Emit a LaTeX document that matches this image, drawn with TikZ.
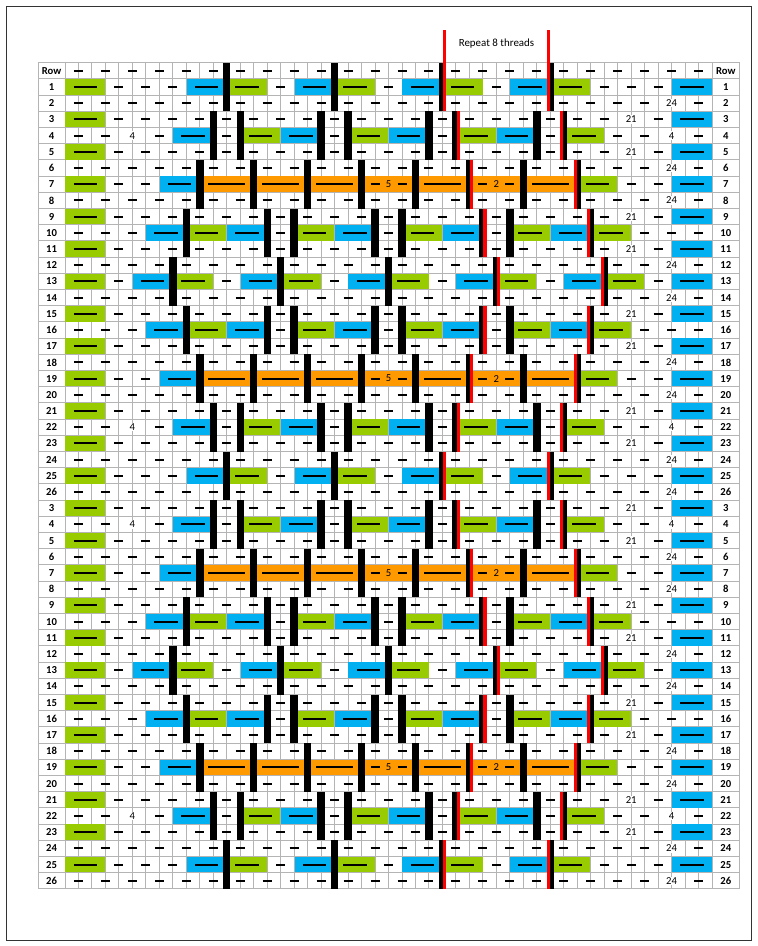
\documentclass[tikz,border=0pt]{standalone}
\usepackage{fontspec}
\setmainfont{Carlito}
\definecolor{cgreen}{HTML}{99CC00}
\definecolor{cblue}{HTML}{00B0F0}
\definecolor{corange}{HTML}{FF9900}
\definecolor{cgrid}{HTML}{B4B4B4}
\tikzset{
  sd/.style={line width=1.5pt},
  ld/.style={line width=1.6pt},
  gridl/.style={draw=cgrid, line width=0.7pt},
  framel/.style={draw=black!80, line width=0.7pt},
  numl/.style={font=\fontsize{8}{9}\selectfont, fill=white, inner sep=0.6pt},
  numo/.style={font=\fontsize{8}{9}\selectfont, fill=corange, inner sep=0.6pt},
  rowl/.style={font=\fontsize{8}{9}\selectfont\bfseries, inner sep=0pt},
  repl/.style={font=\fontsize{8.2}{10}\selectfont, inner sep=0pt},
}
% short dash: row n, gridline k
\newcommand\sdash[2]{\draw[sd] ({65+13.48*(#2)-4.5},{62.7+16.2*(#1)+8.1}) -- ({65+13.48*(#2)+4.5},{62.7+16.2*(#1)+8.1});}
% coloured block: row n, from k1 to k2, colour
\newcommand\blk[4]{\fill[#4] ({65+13.48*(#2)+0.35},{62.7+16.2*(#1)+0.35}) rectangle ({65+13.48*(#3)-0.35},{62.7+16.2*(#1)+16.2-0.35});}
\newcommand\blkL[4]{\blk{#1}{#2}{#3}{#4}\draw[ld] ({65+13.48*(#2)+8.5},{62.7+16.2*(#1)+8.1}) -- ({65+13.48*(#3)-8.5},{62.7+16.2*(#1)+8.1});}
\newcommand\numc[3]{\node[numl] (n#1-#2) at ({65+13.48*(#2)},{62.7+16.2*(#1)+8.1}) {#3};}
\newcommand\numor[3]{\node[numo] (n#1-#2) at ({65+13.48*(#2)},{62.7+16.2*(#1)+8.1}) {#3};}
% outer rows
\newcommand\oddouter[2]{\foreach \k in {1,3,...,43,47}{\sdash{#1}{\k}}%
  \ifnum#2=1 \numc{#1}{45}{24}\else\sdash{#1}{45}\fi}
\newcommand\evenouter[1]{\blkL{#1}{0}{3}{cgreen}%
  \foreach \k in {4,6,...,40,44}{\sdash{#1}{\k}}%
  \numc{#1}{42}{21}\blkL{#1}{45}{48}{cblue}}
% middle rows
\newcommand\midA[1]{\blkL{#1}{0}{3}{cgreen}%
  \foreach \k in {4,6,8,16,24,32,40,42,44}{\sdash{#1}{\k}}%
  \foreach \a in {9,17,25,33}{\blkL{#1}{\a}{\a+3}{cblue}\blkL{#1}{\a+3}{\a+6}{cgreen}}%
  \blkL{#1}{45}{48}{cblue}}
\newcommand\midB[1]{\foreach \k in {1,3,7,12,20,28,36,41,43,47}{\sdash{#1}{\k}}%
  \numc{#1}{5}{4}\numc{#1}{45}{4}%
  \foreach \a in {8,16,24,32}{\blkL{#1}{\a}{\a+3}{cblue}}%
  \foreach \a in {13,21,29,37}{\blkL{#1}{\a}{\a+3}{cgreen}}}
\newcommand\midC[1]{\blkL{#1}{0}{3}{cgreen}%
  \foreach \k in {4,6,42,44}{\sdash{#1}{\k}}%
  \blkL{#1}{7}{10}{cblue}%
  \foreach \a in {10,14,18,26,34}{\blkL{#1}{\a}{\a+4}{corange}}%
  \blk{#1}{22}{26}{corange}\blk{#1}{30}{34}{corange}%
  \foreach \k in {23,25,31,33}{\sdash{#1}{\k}}%
  \numor{#1}{24}{5}\numor{#1}{32}{2}%
  \blkL{#1}{38}{41}{cgreen}\blkL{#1}{45}{48}{cblue}}
\newcommand\midD[1]{\foreach \k in {1,3,5,16,24,32,43,45,47}{\sdash{#1}{\k}}%
  \foreach \a in {6,12,20,28,36}{\blkL{#1}{\a}{\a+3}{cblue}}%
  \foreach \a in {9,17,25,33,39}{\blkL{#1}{\a}{\a+3}{cgreen}}}
\newcommand\midE[1]{\blkL{#1}{0}{3}{cgreen}%
  \foreach \k in {4,12,20,28,36,44}{\sdash{#1}{\k}}%
  \foreach \a in {5,13,21,29,37}{\blkL{#1}{\a}{\a+3}{cblue}}%
  \foreach \a in {8,16,24,32,40}{\blkL{#1}{\a}{\a+3}{cgreen}}%
  \blkL{#1}{45}{48}{cblue}}
% bars of a group g with offset j
\newcommand\barsgrp[2]{\foreach \m in {0,...,3}{%
  \fill[black] ({65+13.48*(12+8*\m-#2)-3.7},{62.7+48.6*#1}) rectangle ({65+13.48*(12+8*\m-#2)+3.7},{62.7+48.6*#1+48.6});
  \fill[black] ({65+13.48*(12+8*\m+#2)-3.7},{62.7+48.6*#1}) rectangle ({65+13.48*(12+8*\m+#2)+3.7},{62.7+48.6*#1+48.6});}%
  \fill[red] ({65+13.48*(28+#2)+0.6},{62.7+48.6*#1}) rectangle ({65+13.48*(28+#2)+3.7},{62.7+48.6*#1+48.6});
  \fill[red] ({65+13.48*(36+#2)-3.7},{62.7+48.6*#1}) rectangle ({65+13.48*(36+#2)-0.6},{62.7+48.6*#1+48.6});}
\begin{document}
\begin{tikzpicture}[x=0.75pt,y=-0.75pt]
\useasboundingbox (0,0) rectangle (757,946);
\draw[framel] (6,6.5) rectangle (751,940);
% grid
\foreach \n in {0,...,51} \draw[gridl] (38.3,{62.7+16.2*\n}) -- (739.5,{62.7+16.2*\n});
\foreach \k in {0,...,48} \draw[gridl] ({65+13.48*\k},62.7) -- ({65+13.48*\k},888.9);
\draw[gridl] (38.3,62.7) -- (38.3,888.9);
\draw[gridl] (739.5,62.7) -- (739.5,888.9);
% rows and bars, group by group
\foreach \g/\j in {0/0,1/1,2/2,3/3,4/4,5/3,6/2,7/1,8/0,9/1,10/2,11/3,12/4,13/3,14/2,15/1,16/0}{%
  \pgfmathtruncatemacro\nt{3*\g}%
  \pgfmathtruncatemacro\nm{3*\g+1}%
  \pgfmathtruncatemacro\nb{3*\g+2}%
  \ifodd\j\relax
    \evenouter{\nt}\evenouter{\nb}%
  \else
    \ifnum\g=0\relax \oddouter{\nt}{0}\else \oddouter{\nt}{1}\fi
    \oddouter{\nb}{1}%
  \fi
  \ifcase\j\relax \midA{\nm}\or \midB{\nm}\or \midC{\nm}\or \midD{\nm}\or \midE{\nm}\fi
  \barsgrp{\g}{\j}%
}
% repeat markers
\fill[red] ({65+13.48*28+0.6},30) rectangle ({65+13.48*28+3.7},62.7);
\fill[red] ({65+13.48*36-3.7},30) rectangle ({65+13.48*36-0.6},62.7);
\node[repl] (rep) at (496.5,43.5) {Repeat 8 threads};
% row labels
\node[rowl] (rlL0) at (51.65,70.8) {Row};
\node[rowl] (rlR0) at (725.75,70.8) {Row};
\foreach \n in {1,...,50}{%
  \pgfmathtruncatemacro\lab{\n<27 ? \n : \n-24}%
  \node[rowl] (rlL\n) at (51.65,{62.7+16.2*\n+8.1}) {\lab};
  \node[rowl] (rlR\n) at (725.75,{62.7+16.2*\n+8.1}) {\lab};
}
\end{tikzpicture}
\end{document}
